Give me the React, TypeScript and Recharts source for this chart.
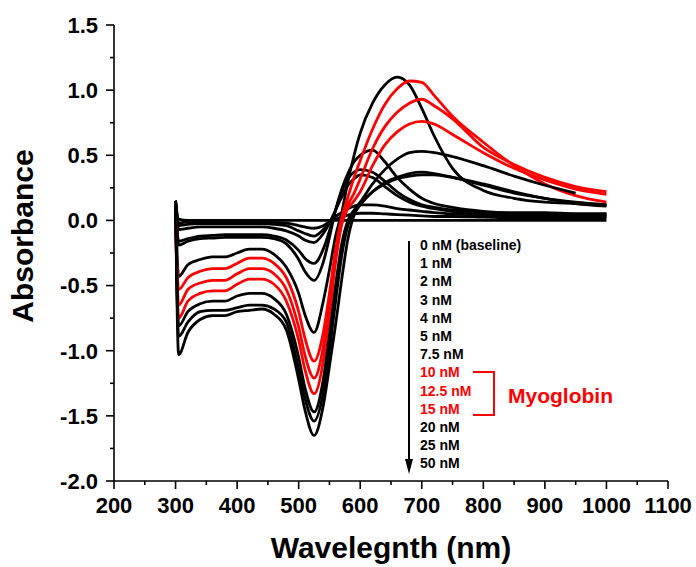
import React from 'react';
import { LineChart, Line, XAxis, YAxis } from 'recharts';

// wavelength grid (nm) the spectra were read at
const wavelengths = [300, 305, 320, 340, 360, 380, 400, 420, 440, 460, 480, 500, 510, 525, 540, 550, 560, 570, 580, 590, 600, 620, 640, 660, 680, 700, 720, 750, 800, 850, 900, 950, 1000];

const nM0 = [0.15, 0.01, 0, 0, 0, 0, 0, 0, 0, 0, 0, 0, 0, 0, 0, 0, 0, 0, 0, 0, 0, 0, 0, 0, 0, 0, 0, 0, 0, 0, 0, 0, 0];
const nM1 = [0.15, -0.02, -0.01, -0.01, -0.01, -0.01, -0.01, -0.01, -0.01, -0.015, -0.02, -0.04, -0.05, -0.06, -0.04, -0.01, 0.01, 0.025, 0.04, 0.05, 0.055, 0.055, 0.05, 0.045, 0.04, 0.035, 0.03, 0.03, 0.025, 0.02, 0.02, 0.02, 0.02];
const nM2 = [0.15, -0.04, -0.03, -0.025, -0.025, -0.025, -0.025, -0.025, -0.025, -0.03, -0.04, -0.08, -0.1, -0.12, -0.07, -0.02, 0.03, 0.06, 0.09, 0.11, 0.12, 0.12, 0.11, 0.09, 0.08, 0.07, 0.06, 0.05, 0.04, 0.035, 0.03, 0.03, 0.03];
const nM3 = [0.15, -0.07, -0.06, -0.05, -0.05, -0.05, -0.05, -0.05, -0.05, -0.06, -0.08, -0.12, -0.15, -0.17, -0.1, -0.02, 0.08, 0.18, 0.27, 0.32, 0.35, 0.33, 0.26, 0.19, 0.14, 0.11, 0.09, 0.07, 0.05, 0.04, 0.04, 0.04, 0.04];
const nM4 = [0.15, -0.16, -0.14, -0.12, -0.115, -0.11, -0.11, -0.11, -0.11, -0.12, -0.15, -0.23, -0.29, -0.33, -0.22, -0.08, 0.08, 0.22, 0.32, 0.37, 0.39, 0.37, 0.3, 0.22, 0.16, 0.12, 0.1, 0.08, 0.06, 0.05, 0.05, 0.05, 0.05];
const nM5 = [0.15, -0.19, -0.16, -0.14, -0.135, -0.13, -0.13, -0.13, -0.13, -0.14, -0.18, -0.3, -0.39, -0.46, -0.32, -0.13, 0.08, 0.24, 0.36, 0.45, 0.5, 0.54, 0.45, 0.33, 0.24, 0.17, 0.13, 0.1, 0.07, 0.06, 0.06, 0.05, 0.05];
const nM7_5 = [0.15, -0.43, -0.34, -0.3, -0.28, -0.28, -0.25, -0.22, -0.22, -0.26, -0.36, -0.56, -0.72, -0.86, -0.62, -0.38, -0.12, 0.06, 0.3, 0.5, 0.67, 0.9, 1.04, 1.1, 1.04, 0.86, 0.65, 0.4, 0.23, 0.17, 0.14, 0.13, 0.12];
const nM10 = [0.04, -0.53, -0.44, -0.39, -0.37, -0.37, -0.33, -0.29, -0.29, -0.33, -0.44, -0.7, -0.9, -1.08, -0.86, -0.56, -0.22, 0.02, 0.18, 0.33, 0.46, 0.7, 0.89, 1.01, 1.07, 1.06, 0.96, 0.8, 0.6, 0.42, 0.28, 0.19, 0.14];
const nM12_5 = [0.04, -0.65, -0.53, -0.48, -0.46, -0.46, -0.41, -0.37, -0.37, -0.41, -0.53, -0.82, -1.03, -1.21, -0.97, -0.64, -0.27, 0, 0.12, 0.21, 0.32, 0.55, 0.72, 0.83, 0.9, 0.93, 0.88, 0.78, 0.56, 0.43, 0.33, 0.26, 0.22];
const nM15 = [0.04, -0.75, -0.62, -0.56, -0.54, -0.54, -0.49, -0.45, -0.45, -0.49, -0.62, -0.92, -1.14, -1.33, -1.08, -0.72, -0.32, -0.03, 0.09, 0.15, 0.22, 0.42, 0.58, 0.68, 0.74, 0.76, 0.74, 0.66, 0.52, 0.4, 0.31, 0.24, 0.2];
const nM20 = [0.15, -0.81, -0.7, -0.64, -0.62, -0.62, -0.58, -0.56, -0.56, -0.6, -0.72, -1.05, -1.28, -1.47, -1.22, -0.88, -0.5, -0.18, 0, 0.08, 0.14, 0.28, 0.39, 0.47, 0.52, 0.53, 0.52, 0.49, 0.42, 0.34, 0.27, 0.21, null];
const nM25 = [0.15, -0.89, -0.78, -0.7, -0.69, -0.69, -0.67, -0.65, -0.65, -0.68, -0.78, -1.14, -1.36, -1.54, -1.32, -1.0, -0.62, -0.27, -0.04, 0.06, 0.12, 0.22, 0.29, 0.33, 0.36, 0.37, 0.36, 0.33, 0.27, 0.21, 0.17, 0.13, 0.11];
const nM50 = [0.15, -1.03, -0.86, -0.76, -0.73, -0.73, -0.7, -0.69, -0.68, -0.72, -0.84, -1.22, -1.45, -1.65, -1.42, -1.12, -0.8, -0.45, -0.14, 0.04, 0.12, 0.22, 0.28, 0.32, 0.34, 0.35, 0.35, 0.33, 0.28, 0.22, 0.17, 0.14, 0.12];

const seriesValues = [nM0, nM1, nM2, nM3, nM4, nM5, nM7_5, nM10, nM12_5, nM15, nM20, nM25, nM50];
const seriesLabels = ['0 nM (baseline)', '1 nM', '2 nM', '3 nM', '4 nM', '5 nM', '7.5 nM', '10 nM', '12.5 nM', '15 nM', '20 nM', '25 nM', '50 nM'];
const redSeries = ['10 nM', '12.5 nM', '15 nM'];

const xTicks = [200, 250, 300, 350, 400, 450, 500, 550, 600, 650, 700, 750, 800, 850, 900, 950, 1000, 1050, 1100];
const yTicks = [-2, -1.75, -1.5, -1.25, -1, -0.75, -0.5, -0.25, 0, 0.25, 0.5, 0.75, 1, 1.25, 1.5];

const data = wavelengths.map((wl, i) => {
  const row: any = { wl };
  seriesValues.forEach((s, k) => {
    row['s' + k] = s[i];
  });
  return row;
});

const FONT = '"Liberation Sans", Arial, Helvetica, sans-serif';
const RED = '#ff0000';

const XTick = (props: any) => {
  const { x, y, payload } = props;
  const v = payload.value;
  const major = v % 100 === 0;
  return (
    <g>
      <line x1={x} y1={y} x2={x} y2={y + (major ? 8 : 4)} stroke="#000" strokeWidth={1.6} />
      {major && (
        <text x={x} y={y + 32} textAnchor="middle" fontFamily={FONT} fontWeight="bold" fontSize={22} fill="#000">
          {v}
        </text>
      )}
    </g>
  );
};

const YTick = (props: any) => {
  const { x, y, payload } = props;
  const v = payload.value;
  const major = Math.abs(v * 2 - Math.round(v * 2)) < 1e-6;
  return (
    <g>
      <line x1={x} y1={y} x2={x - (major ? 8 : 4)} y2={y} stroke="#000" strokeWidth={1.6} />
      {major && (
        <text x={x - 16} y={y} dy="0.36em" textAnchor="end" fontFamily={FONT} fontWeight="bold" fontSize={22} fill="#000">
          {v.toFixed(1)}
        </text>
      )}
    </g>
  );
};

export default function App() {
  return (
    <div style={{ position: 'absolute', left: 0, top: 0, width: 696, height: 567, background: '#fff' }}>
      <LineChart width={696} height={567} data={data} margin={{ top: 25, right: 28, bottom: 0, left: 0 }}>
        <XAxis
          dataKey="wl"
          type="number"
          domain={[200, 1100]}
          ticks={xTicks}
          interval={0}
          height={86}
          tickSize={0}
          tickMargin={0}
          tickLine={false}
          tick={<XTick />}
          axisLine={{ stroke: '#000', strokeWidth: 1.6 }}
        />
        <YAxis
          type="number"
          domain={[-2, 1.5]}
          ticks={yTicks}
          interval={0}
          width={114}
          tickSize={0}
          tickMargin={0}
          tickLine={false}
          tick={<YTick />}
          axisLine={{ stroke: '#000', strokeWidth: 1.6 }}
        />
        {seriesLabels.map((label, k) => (
          <Line
            key={label}
            type="monotone"
            dataKey={'s' + k}
            stroke={redSeries.includes(label) ? RED : '#000'}
            strokeWidth={2.8}
            dot={false}
            activeDot={false}
            isAnimationActive={false}
          />
        ))}
      </LineChart>
      <svg width={696} height={567} style={{ position: 'absolute', left: 0, top: 0, pointerEvents: 'none' }}>
        <text x={33} y={236} transform="rotate(-90 33 236)" textAnchor="middle" fontFamily={FONT} fontWeight="bold" fontSize={30} fill="#000">
          Absorbance
        </text>
        <text x={391} y={558} textAnchor="middle" fontFamily={FONT} fontWeight="bold" fontSize={30} fill="#000">
          Wavelegnth (nm)
        </text>
        {/* concentration arrow */}
        <line x1={409} y1={241} x2={409} y2={462} stroke="#000" strokeWidth={2} />
        <polygon points="405,459 413,459 409,474" fill="#000" />
        {seriesLabels.map((label, i) => (
          <text
            key={label}
            x={420}
            y={245 + i * 18.2}
            dy="0.36em"
            fontFamily={FONT}
            fontWeight="bold"
            fontSize={14}
            fill={redSeries.includes(label) ? RED : '#000'}
          >
            {label}
          </text>
        ))}
        <polyline points="473,372 494,372 494,415 473,415" fill="none" stroke={RED} strokeWidth={2} />
        <text x={508} y={395} dy="0.36em" fontFamily={FONT} fontWeight="bold" fontSize={21} fill={RED}>
          Myoglobin
        </text>
      </svg>
    </div>
  );
}
